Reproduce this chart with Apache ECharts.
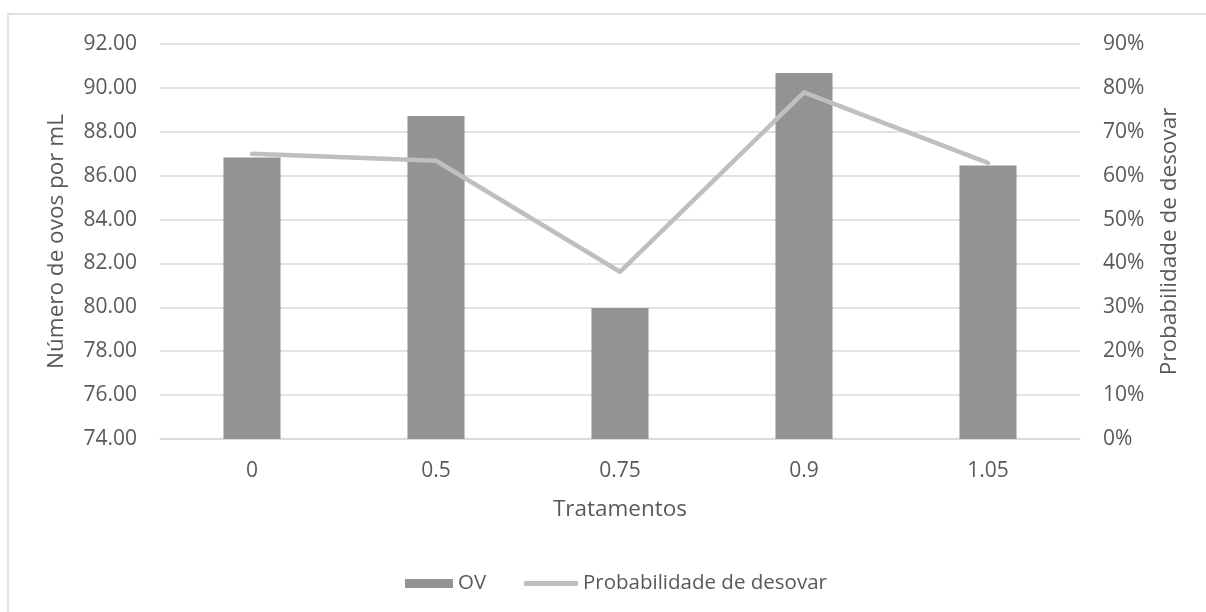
<!DOCTYPE html>
<html>
<head>
<meta charset="utf-8">
<script src="https://cdn.jsdelivr.net/npm/echarts@6/dist/echarts.min.js"></script>
<style>
html,body{margin:0;padding:0;background:#fff;}
#chart{width:1206px;height:612px;}
</style>
</head>
<body>
<div id="chart"></div>
<script>
const categories = ['0', '0.5', '0.75', '0.9', '1.05'];
const ovValues = [86.83, 88.72, 79.97, 90.68, 86.46];
const probValues = [65.0, 63.4, 38.1, 79.0, 62.9];
const leftTicks = { min: 74, max: 92, interval: 2 };
const rightTicks = { min: 0, max: 90, interval: 10 };

const FONT = '"Open Sans", "DejaVu Sans", sans-serif';
const TXT = '#595959';
const chart = echarts.init(document.getElementById('chart'), null, { renderer: 'canvas' });
chart.setOption({
  backgroundColor: '#fff',
  animation: false,
  textStyle: { fontFamily: FONT },
  graphic: [{
    type: 'rect', silent: true, z: -1,
    shape: { x: 8, y: 14, width: 1400, height: 800 },
    style: { fill: '#fff', stroke: '#d9d9d9', lineWidth: 1.5 }
  }],
  grid: { left: 160, right: 126, top: 44, bottom: 173, containLabel: false },
  legend: [{
    left: 405, top: 573, padding: 0,
    itemWidth: 48, itemHeight: 9,
    textStyle: { color: TXT, fontSize: 20.5, fontFamily: FONT },
    data: [{ name: 'OV', icon: 'rect' }]
  }, {
    left: 524, top: 573, padding: 0,
    itemWidth: 54, itemHeight: 5,
    textStyle: { color: TXT, fontSize: 20.5, fontFamily: FONT },
    itemStyle: { color: '#bfbfbf' },
    data: [{ name: 'Probabilidade de desovar', icon: 'roundRect' }]
  }],
  xAxis: {
    type: 'category', data: categories,
    name: 'Tratamentos', nameLocation: 'middle', nameGap: 59,
    nameTextStyle: { color: TXT, fontSize: 22.5, fontFamily: FONT },
    axisLine: { lineStyle: { color: '#d9d9d9', width: 1.5 } },
    axisTick: { show: false },
    axisLabel: { color: TXT, fontSize: 21, margin: 22, fontFamily: FONT }
  },
  yAxis: [{
    type: 'value', min: leftTicks.min, max: leftTicks.max, interval: leftTicks.interval,
    name: 'Número de ovos por mL', nameLocation: 'middle', nameGap: 92, nameRotate: 90,
    nameTextStyle: { color: TXT, fontSize: 22.5, fontFamily: FONT },
    axisLine: { show: false }, axisTick: { show: false },
    axisLabel: { color: TXT, fontSize: 21, margin: 23, fontFamily: FONT, formatter: v => v.toFixed(2) },
    splitLine: { lineStyle: { color: '#d9d9d9', width: 1.5 } }
  }, {
    type: 'value', min: rightTicks.min, max: rightTicks.max, interval: rightTicks.interval,
    name: 'Probabilidade de desovar', nameLocation: 'middle', nameGap: 78, nameRotate: 90,
    nameTextStyle: { color: TXT, fontSize: 22.5, fontFamily: FONT },
    axisLine: { show: false }, axisTick: { show: false },
    axisLabel: { color: TXT, fontSize: 21, margin: 23, fontFamily: FONT, formatter: '{value}%' },
    splitLine: { show: false }
  }],
  series: [{
    name: 'OV', type: 'bar', data: ovValues, yAxisIndex: 0,
    barWidth: '31%',
    itemStyle: { color: '#939393' }
  }, {
    name: 'Probabilidade de desovar', type: 'line', data: probValues, yAxisIndex: 1,
    symbol: 'none', showSymbol: false,
    lineStyle: { color: '#bfbfbf', width: 4.5, cap: 'round', join: 'round' },
    itemStyle: { color: '#bfbfbf' }
  }]
});
</script>
</body>
</html>
